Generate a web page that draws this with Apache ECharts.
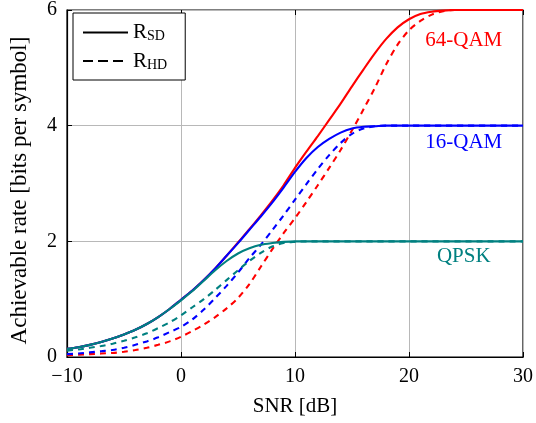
<!DOCTYPE html>
<html>
<head>
<meta charset="utf-8">
<script src="https://cdn.jsdelivr.net/npm/echarts@6/dist/echarts.min.js"></script>
<style>
html,body{margin:0;padding:0;background:#fff;}
#c{width:536px;height:423px;}
</style>
</head>
<body>
<div id="c"></div>
<script>
const snr = [-10,-9,-8,-7,-6,-5,-4,-3,-2,-1,0,1,2,3,4,5,6,7,8,9,10,11,12,13,14,15,16,17,18,19,20,21,22,23,24,25,26,27,28,29,30];
const qam64SD = [0.14,0.17,0.21,0.26,0.32,0.39,0.47,0.57,0.69,0.83,0.99,1.15,1.33,1.53,1.75,1.98,2.21,2.45,2.70,2.97,3.27,3.55,3.82,4.10,4.38,4.68,4.97,5.25,5.50,5.70,5.84,5.93,5.97,5.99,6,6,6,6,6,6,6];
const qam64HD = [0.03,0.04,0.05,0.06,0.07,0.09,0.12,0.16,0.21,0.27,0.35,0.45,0.56,0.69,0.84,1.02,1.26,1.56,1.86,2.14,2.40,2.68,2.97,3.27,3.58,3.92,4.28,4.65,5.06,5.40,5.65,5.81,5.92,5.98,6,6,6,6,6,6,6];
const qam16SD = [0.14,0.17,0.21,0.26,0.32,0.39,0.47,0.57,0.69,0.83,0.99,1.15,1.33,1.53,1.75,1.97,2.20,2.43,2.67,2.93,3.20,3.44,3.63,3.77,3.88,3.95,3.98,3.99,4,4,4,4,4,4,4,4,4,4,4,4,4];
const qam16HD = [0.05,0.06,0.08,0.10,0.12,0.16,0.21,0.27,0.34,0.43,0.52,0.65,0.82,1.02,1.23,1.46,1.71,1.94,2.19,2.45,2.72,2.99,3.25,3.49,3.70,3.86,3.95,3.99,4,4,4,4,4,4,4,4,4,4,4,4,4];
const qpskSD = [0.14,0.17,0.21,0.26,0.32,0.39,0.47,0.57,0.69,0.83,0.98,1.14,1.32,1.50,1.66,1.79,1.88,1.94,1.97,1.99,2,2,2,2,2,2,2,2,2,2,2,2,2,2,2,2,2,2,2,2,2];
const qpskHD = [0.11,0.13,0.16,0.19,0.23,0.28,0.34,0.41,0.50,0.60,0.72,0.86,1.00,1.16,1.33,1.50,1.66,1.80,1.91,1.97,1.99,2,2,2,2,2,2,2,2,2,2,2,2,2,2,2,2,2,2,2,2];
const xTicks = [-10, 0, 10, 20, 30];
const yTicks = [0, 2, 4, 6];
const curveNames = ['64-QAM', '16-QAM', 'QPSK'];
const labelPos = [[24.8, 5.47], [24.8, 3.71], [24.8, 1.73]];

const FONT = 'Liberation Serif';
const colors = ['#ff0000', '#0000ff', '#008080'];
const sdData = [qam64SD, qam16SD, qpskSD];
const hdData = [qam64HD, qam16HD, qpskHD];
const zip = a => snr.map((x, i) => [x, a[i]]);

const series = [];
for (let k = 0; k < 3; k++) {
  series.push({
    type: 'line', name: curveNames[k] + ' SD', data: zip(sdData[k]),
    showSymbol: false, symbol: 'none', smooth: 0.3, color: colors[k],
    lineStyle: {width: 2.1, color: colors[k]}, z: 3 + k,
    markPoint: {
      symbol: 'rect', symbolSize: [1, 1], itemStyle: {color: 'rgba(0,0,0,0)'},
      label: {show: true, position: 'inside', formatter: curveNames[k], color: colors[k], fontFamily: FONT, fontSize: 21},
      data: [{coord: labelPos[k]}]
    }
  });
  series.push({
    type: 'line', name: curveNames[k] + ' HD', data: zip(hdData[k]),
    showSymbol: false, symbol: 'none', smooth: 0.3, color: colors[k],
    lineStyle: {width: 2.1, color: colors[k], type: [6, 5]}, z: 3 + k
  });
}
series.push({type: 'line', name: 'RSD', data: [], color: '#000', symbol: 'none', lineStyle: {width: 2.4, color: '#000'}});
series.push({type: 'line', name: 'RHD', data: [], color: '#000', symbol: 'none', lineStyle: {width: 2.4, color: '#000', type: [10, 5]}});

const chart = echarts.init(document.getElementById('c'));
const baseX = {type: 'value', min: -10, max: 30, interval: 10};
const baseY = {type: 'value', min: 0, max: 6, interval: 2};
chart.setOption({
  animation: false,
  backgroundColor: '#fff',
  grid: {left: 67, right: 13, top: 10, bottom: 66, show: true, borderColor: '#000', borderWidth: 1.2, backgroundColor: 'transparent'},
  legend: {
    data: ['RSD', 'RHD'], orient: 'vertical', left: 73, top: 13,
    backgroundColor: '#fff', borderColor: '#000', borderWidth: 1,
    padding: [9, 18, 8, 9], itemGap: 7, itemWidth: 45, itemHeight: 14,
    itemStyle: {opacity: 0},
    formatter: n => n === 'RSD' ? '{r|R}{s|SD}' : '{r|R}{s|HD}',
    textStyle: {
      fontFamily: FONT, fontSize: 21, color: '#000',
      rich: {
        r: {fontFamily: FONT, fontSize: 21, color: '#000', lineHeight: 22},
        s: {fontFamily: FONT, fontSize: 14, color: '#000', verticalAlign: 'bottom', lineHeight: 22, padding: [5, 0, 0, 0]}
      }
    }
  },
  xAxis: [
    Object.assign({}, baseX, {
      position: 'bottom',
      name: 'SNR [dB]', nameLocation: 'middle', nameGap: 39,
      nameTextStyle: {fontFamily: FONT, fontSize: 21, color: '#000'},
      axisLine: {show: true, onZero: false, lineStyle: {color: '#000', width: 1.2}},
      axisTick: {show: true, inside: true, length: 5, lineStyle: {color: '#000'}},
      axisLabel: {margin: 10, fontFamily: FONT, fontSize: 20, color: '#000',
        formatter: v => xTicks.includes(v) ? String(v).replace('-', '\u2212') : ''},
      splitLine: {show: true, lineStyle: {color: '#b8b8b8', width: 1}}
    }),
    Object.assign({}, baseX, {
      position: 'top', axisLine: {show: false, onZero: false}, axisLabel: {show: false},
      axisTick: {show: true, inside: true, length: 5, lineStyle: {color: '#000'}}, splitLine: {show: false}
    })
  ],
  yAxis: [
    Object.assign({}, baseY, {
      position: 'left',
      name: 'Achievable rate [bits per symbol]', nameLocation: 'middle', nameGap: 36,
      nameTextStyle: {fontFamily: FONT, fontSize: 23, color: '#000', padding: [0, 14, 0, 0]},
      axisLine: {show: true, onZero: false, lineStyle: {color: '#000', width: 1.2}},
      axisTick: {show: true, inside: true, length: 5, lineStyle: {color: '#000'}},
      axisLabel: {margin: 10, fontFamily: FONT, fontSize: 20, color: '#000',
        formatter: v => yTicks.includes(v) ? String(v) : ''},
      splitLine: {show: true, lineStyle: {color: '#b8b8b8', width: 1}}
    }),
    Object.assign({}, baseY, {
      position: 'right', axisLine: {show: false, onZero: false}, axisLabel: {show: false},
      axisTick: {show: true, inside: true, length: 5, lineStyle: {color: '#000'}}, splitLine: {show: false}
    })
  ],
  series: series
});
</script>
</body>
</html>
